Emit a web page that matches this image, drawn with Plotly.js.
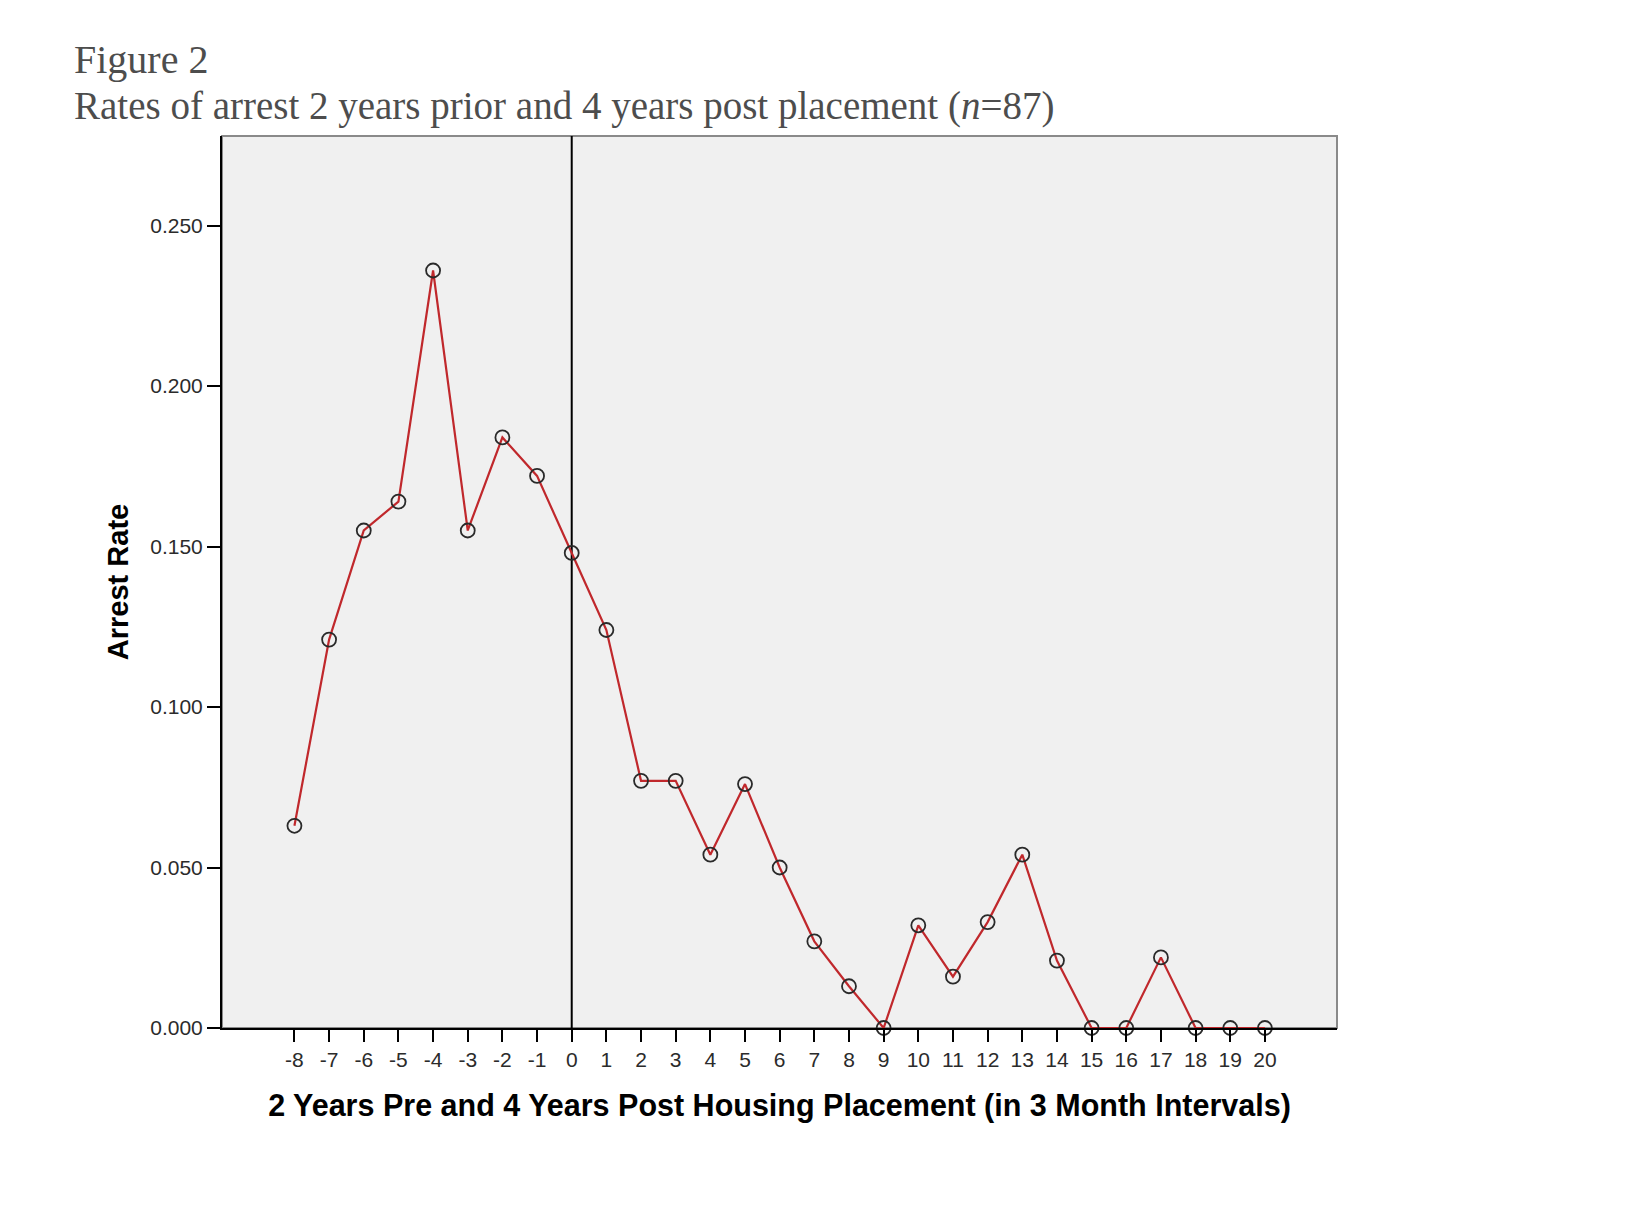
<!DOCTYPE html>
<html>
<head>
<meta charset="utf-8">
<script src="https://cdn.plot.ly/plotly-3.0.1.min.js"></script>
<style>
  html, body { margin: 0; padding: 0; background: #ffffff; }
  #chart { width: 1626px; height: 1216px; }
</style>
</head>
<body>
<div id="chart"></div>
<script>
// Quarter intervals relative to housing placement
const quarters = [-8, -7, -6, -5, -4, -3, -2, -1, 0, 1, 2, 3, 4, 5, 6, 7, 8, 9, 10, 11, 12, 13, 14, 15, 16, 17, 18, 19, 20];
// Arrest rate
const arrestRate = [0.063, 0.121, 0.155, 0.164, 0.236, 0.155, 0.184, 0.172, 0.148, 0.124, 0.077, 0.077, 0.054, 0.076, 0.050, 0.027, 0.013, 0.000, 0.032, 0.016, 0.033, 0.054, 0.021, 0.000, 0.000, 0.022, 0.000, 0.000, 0.000];
const yTickVals = [0, 0.05, 0.10, 0.15, 0.20, 0.25];
const yTickText = ["0.000", "0.050", "0.100", "0.150", "0.200", "0.250"];
const placementX = 0;

const figureTitle = "Figure 2";
const figureSubtitle = "Rates of arrest 2 years prior and 4 years post placement (<i>n</i>=87)";
const xTitle = "2 Years Pre and 4 Years Post Housing Placement (in 3 Month Intervals)";
const yTitle = "Arrest Rate";

const trace = {
  x: quarters,
  y: arrestRate,
  type: "scatter",
  mode: "lines+markers",
  line: { color: "#c0282c", width: 2.2 },
  marker: { symbol: "circle-open", size: 14, color: "#2a2a2a", line: { width: 1.8 } },
  showlegend: false,
  cliponaxis: false,
  hoverinfo: "x+y"
};

const sans = "Liberation Sans, Arial, sans-serif";
const serif = "Liberation Serif, Times New Roman, serif";

const layout = {
  width: 1626,
  height: 1216,
  margin: { l: 222, r: 289, t: 136, b: 188 },
  paper_bgcolor: "#ffffff",
  plot_bgcolor: "#f0f0f0",
  showlegend: false,
  xaxis: {
    range: [-10.09, 22.08],
    tickmode: "array",
    tickvals: quarters,
    ticktext: quarters.map(String),
    tickangle: 0,
    ticks: "outside",
    ticklen: 12,
    tickwidth: 2,
    tickcolor: "#000000",
    tickfont: { family: sans, size: 21, color: "#2b2b2b" },
    showgrid: false,
    zeroline: false,
    showline: true,
    linecolor: "#000000",
    linewidth: 2,
    title: { text: xTitle, font: { family: sans, size: 30.5, color: "#000000", weight: "bold" }, standoff: 24 },
    automargin: false
  },
  yaxis: {
    range: [0, 0.2779],
    tickmode: "array",
    tickvals: yTickVals,
    ticktext: yTickText,
    ticks: "outside",
    ticklen: 13,
    tickwidth: 2,
    tickcolor: "#000000",
    tickfont: { family: sans, size: 21, color: "#2b2b2b" },
    showgrid: false,
    zeroline: false,
    showline: true,
    linecolor: "#000000",
    linewidth: 2,
    title: { text: yTitle, font: { family: sans, size: 29, color: "#000000", weight: "bold" }, standoff: 13 },
    automargin: false
  },
  shapes: [
    {
      type: "rect", xref: "paper", yref: "paper", x0: 0, x1: 1, y0: 0, y1: 1,
      line: { color: "#8a8a8a", width: 2 }, layer: "below"
    },
    {
      type: "line", xref: "x", yref: "paper", x0: placementX, x1: placementX, y0: 0, y1: 1,
      line: { color: "#000000", width: 2 }, layer: "below"
    }
  ],
  annotations: [
    {
      text: figureTitle, xref: "paper", yref: "paper", x: -0.1345, y: 1.0863,
      xanchor: "left", yanchor: "middle", showarrow: false,
      font: { family: serif, size: 40, color: "#4d4d4d" }
    },
    {
      text: figureSubtitle, xref: "paper", yref: "paper", x: -0.1345, y: 1.0337,
      xanchor: "left", yanchor: "middle", showarrow: false,
      font: { family: serif, size: 39, color: "#4d4d4d" }
    }
  ]
};

Plotly.newPlot("chart", [trace], layout, { displayModeBar: false, staticPlot: true });
</script>
</body>
</html>
